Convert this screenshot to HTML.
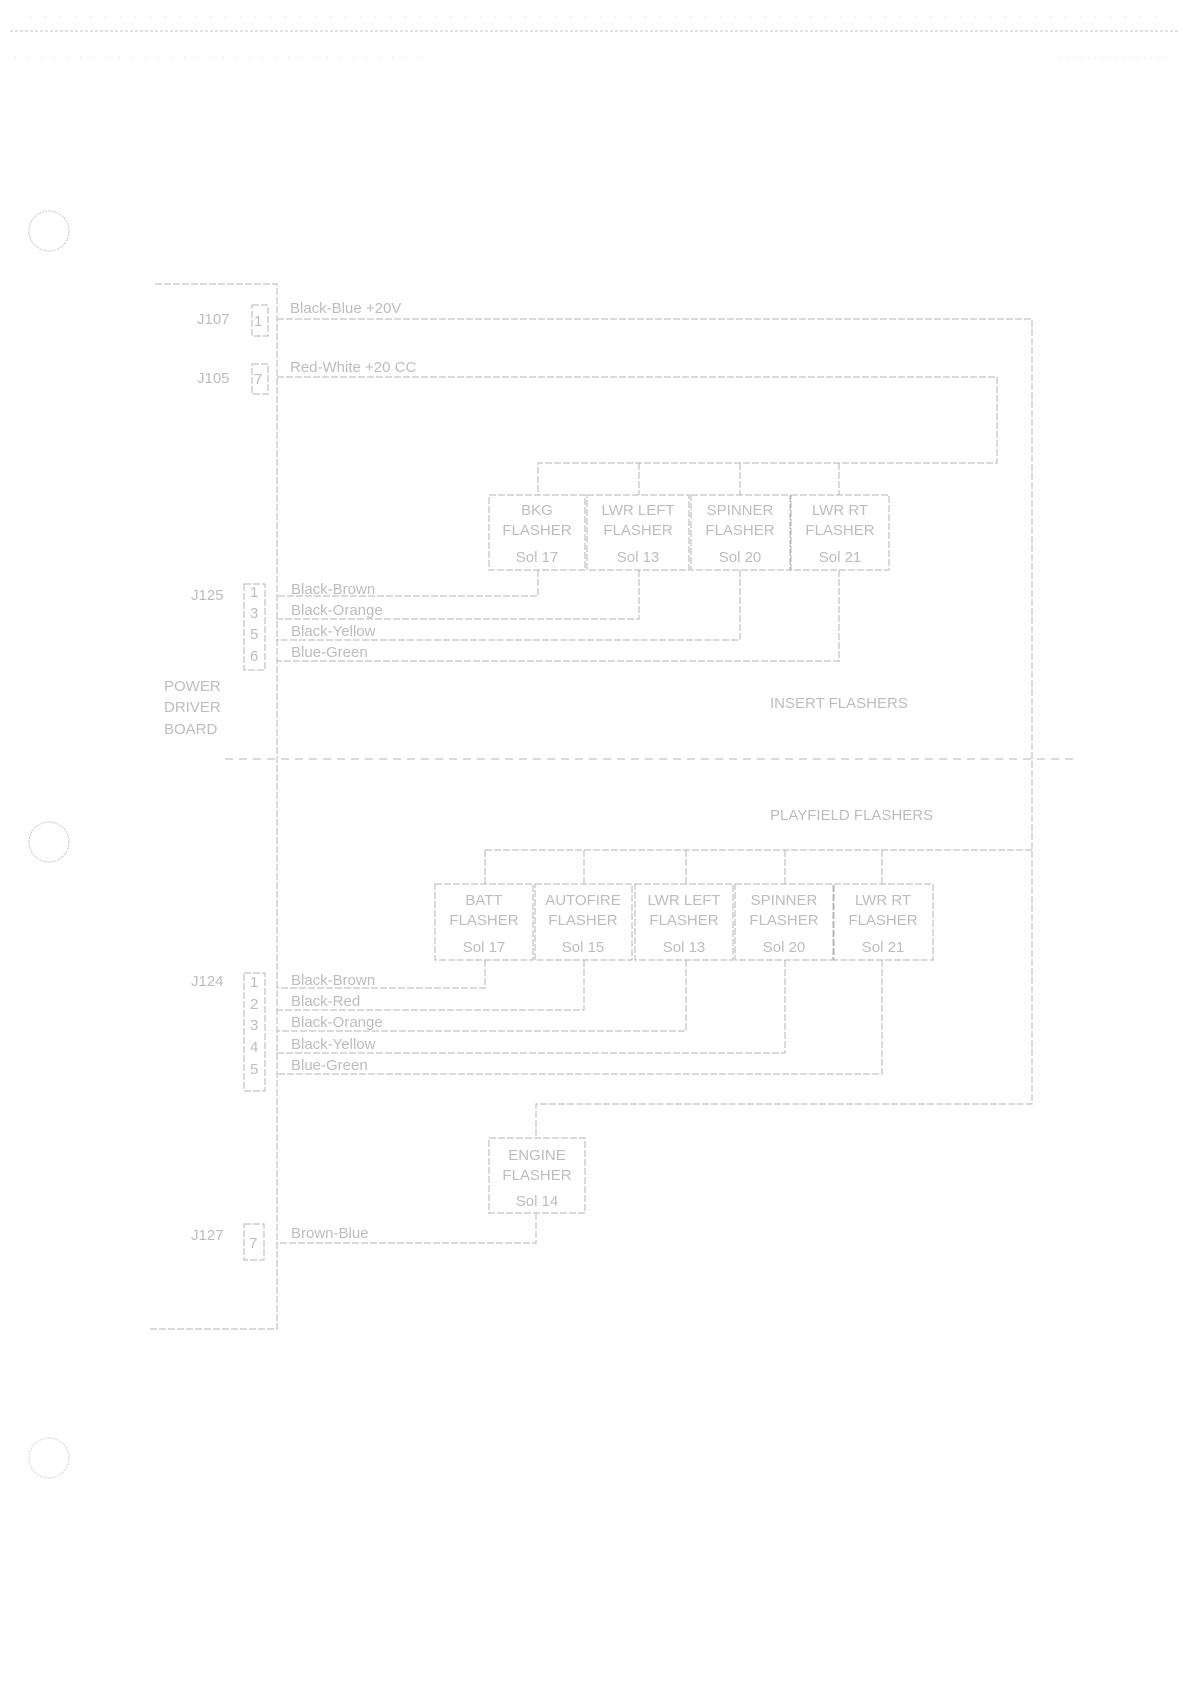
<!DOCTYPE html>
<html><head><meta charset="utf-8"><style>
html,body{margin:0;padding:0;background:#fff}
svg{display:block}
text{font-family:"Liberation Sans",sans-serif;fill:#bdbdbd;font-size:15px}
</style></head><body>
<svg width="1190" height="1683" viewBox="0 0 1190 1683" xmlns="http://www.w3.org/2000/svg">
<g stroke="#cfcfcf" fill="none">
<line x1="10" y1="31" x2="1180" y2="31" stroke-dasharray="3 2" stroke="#c4c4c4"/>
<line x1="30" y1="17" x2="1170" y2="17" stroke-dasharray="1 14" stroke="#d8d8d8"/>
<line x1="15" y1="58" x2="420" y2="58" stroke-dasharray="1 12" stroke="#dcdcdc"/>
<line x1="1060" y1="58" x2="1170" y2="58" stroke-dasharray="1 6" stroke="#dcdcdc"/>
<circle cx="49" cy="231" r="20" stroke="#c8c8c8" stroke-dasharray="2 1"/>
<circle cx="49" cy="842" r="20" stroke="#c8c8c8" stroke-dasharray="2 1"/>
<circle cx="49" cy="1458" r="20" stroke="#d4d4d4" stroke-dasharray="2 1"/>
</g>
<g stroke="#b4b4b4" stroke-width="1" fill="none" stroke-dasharray="7 2">
<polyline points="155,284 277,284 277,1329 150,1329"/>
<polyline points="277,319 1032,319 1032,1104 536,1104 536,1138"/>
<polyline points="277,377 997,377 997,463 538,463 538,495"/>
<line x1="639" y1="463" x2="639" y2="495"/><line x1="740" y1="463" x2="740" y2="495"/><line x1="839" y1="463" x2="839" y2="495"/>
<rect x="252" y="305" width="16" height="31"/>
<rect x="252" y="364" width="16" height="30"/>
<rect x="244" y="584" width="21" height="86"/>
<rect x="244" y="973" width="21" height="118"/>
<rect x="244" y="1224" width="20" height="36"/>
<rect x="489" y="495" width="96" height="75"/>
<rect x="587" y="495" width="102" height="75"/>
<rect x="691" y="495" width="99" height="75"/>
<rect x="791" y="495" width="98" height="75"/>
<polyline points="538,570 538,596 277,596"/>
<polyline points="639,570 639,619 277,619"/>
<polyline points="740,570 740,640 277,640"/>
<polyline points="839,570 839,661 277,661"/>
<line x1="225" y1="759" x2="1077" y2="759" stroke-dasharray="8 6"/>
<line x1="485" y1="850" x2="1032" y2="850"/>
<line x1="485" y1="850" x2="485" y2="884"/><line x1="584" y1="850" x2="584" y2="884"/><line x1="686" y1="850" x2="686" y2="884"/><line x1="785" y1="850" x2="785" y2="884"/><line x1="882" y1="850" x2="882" y2="884"/>
<rect x="435" y="884" width="98" height="76"/>
<rect x="535" y="884" width="97" height="76"/>
<rect x="635" y="884" width="98" height="76"/>
<rect x="735" y="884" width="98" height="76"/>
<rect x="834" y="884" width="99" height="76"/>
<polyline points="485,960 485,988 277,988"/>
<polyline points="584,960 584,1010 277,1010"/>
<polyline points="686,960 686,1031 277,1031"/>
<polyline points="785,960 785,1053 277,1053"/>
<polyline points="882,960 882,1074 277,1074"/>
<rect x="489" y="1138" width="96" height="75"/>
<polyline points="536,1213 536,1243 277,1243"/>
</g>
<g>
<text x="197" y="324">J107</text><text x="254" y="326" font-size="12">1</text>
<text x="290" y="313">Black-Blue  +20V</text>
<text x="197" y="383">J105</text><text x="254" y="384" font-size="12">7</text>
<text x="290" y="372">Red-White  +20 CC</text>
<text x="191" y="600">J125</text>
<text x="250" y="597" font-size="13">1</text><text x="250" y="618" font-size="13">3</text><text x="250" y="639" font-size="13">5</text><text x="250" y="661" font-size="13">6</text>
<text x="291" y="594">Black-Brown</text><text x="291" y="615">Black-Orange</text><text x="291" y="636">Black-Yellow</text><text x="291" y="657">Blue-Green</text>
<text x="164" y="691">POWER</text><text x="164" y="712">DRIVER</text><text x="164" y="734">BOARD</text>
<g text-anchor="middle">
<text x="537" y="515">BKG</text><text x="537" y="535">FLASHER</text><text x="537" y="562">Sol 17</text>
<text x="638" y="515">LWR LEFT</text><text x="638" y="535">FLASHER</text><text x="638" y="562">Sol 13</text>
<text x="740" y="515">SPINNER</text><text x="740" y="535">FLASHER</text><text x="740" y="562">Sol 20</text>
<text x="840" y="515">LWR RT</text><text x="840" y="535">FLASHER</text><text x="840" y="562">Sol 21</text>
<text x="484" y="905">BATT</text><text x="484" y="925">FLASHER</text><text x="484" y="952">Sol 17</text>
<text x="583" y="905">AUTOFIRE</text><text x="583" y="925">FLASHER</text><text x="583" y="952">Sol 15</text>
<text x="684" y="905">LWR LEFT</text><text x="684" y="925">FLASHER</text><text x="684" y="952">Sol 13</text>
<text x="784" y="905">SPINNER</text><text x="784" y="925">FLASHER</text><text x="784" y="952">Sol 20</text>
<text x="883" y="905">LWR RT</text><text x="883" y="925">FLASHER</text><text x="883" y="952">Sol 21</text>
<text x="537" y="1160">ENGINE</text><text x="537" y="1180">FLASHER</text><text x="537" y="1206">Sol 14</text>
</g>
<text x="770" y="708">INSERT FLASHERS</text>
<text x="770" y="820">PLAYFIELD FLASHERS</text>
<text x="191" y="986">J124</text>
<text x="250" y="987" font-size="13">1</text><text x="250" y="1009" font-size="13">2</text><text x="250" y="1030" font-size="13">3</text><text x="250" y="1052" font-size="13">4</text><text x="250" y="1074" font-size="13">5</text>
<text x="291" y="985">Black-Brown</text><text x="291" y="1006">Black-Red</text><text x="291" y="1027">Black-Orange</text><text x="291" y="1049">Black-Yellow</text><text x="291" y="1070">Blue-Green</text>
<text x="191" y="1240">J127</text><text x="249" y="1248" font-size="13">7</text>
<text x="291" y="1238">Brown-Blue</text>
</g>
</svg>
</body></html>
